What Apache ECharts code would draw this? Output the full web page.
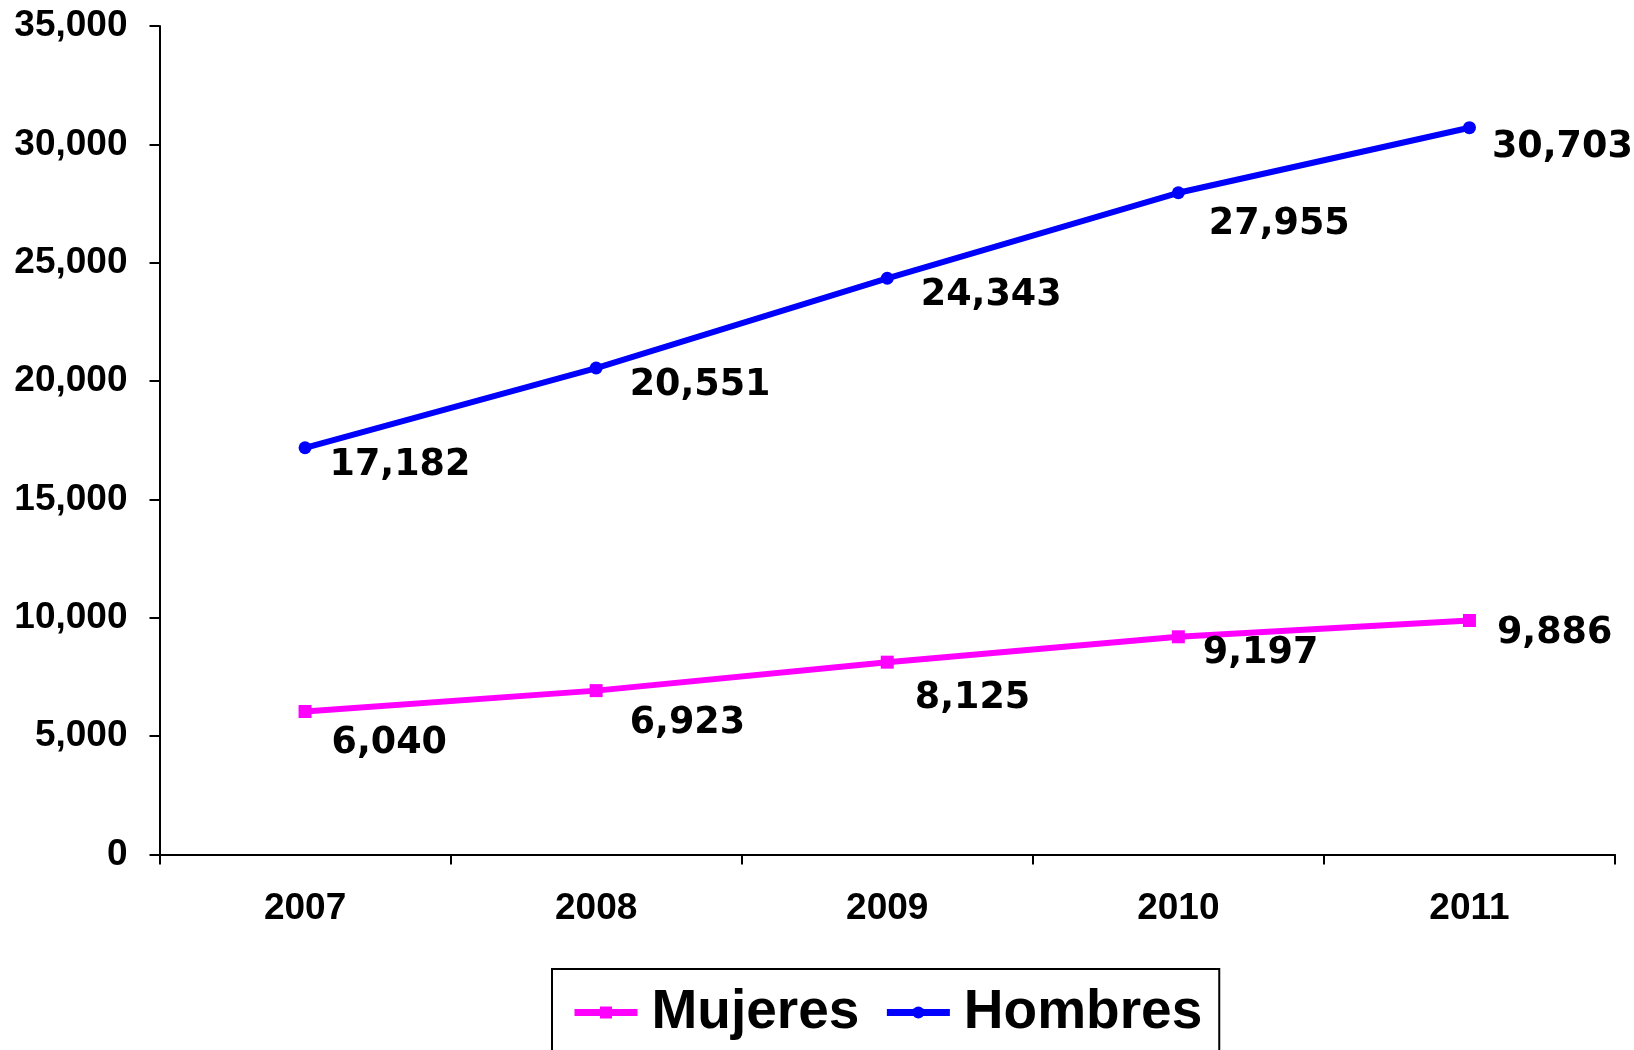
<!DOCTYPE html>
<html>
<head>
<meta charset="utf-8">
<script src="https://cdn.jsdelivr.net/npm/echarts@6/dist/echarts.min.js"></script>
<style>
html,body{margin:0;padding:0;background:#fff;}
#chart{width:1634px;height:1050px;}
</style>
</head>
<body>
<div id="chart"></div>
<script>
const years = ['2007', '2008', '2009', '2010', '2011'];
const mujeres = [6040, 6923, 8125, 9197, 9886];
const hombres = [17182, 20551, 24343, 27955, 30703];
const mujeresLabelOffsets = [[20, 32], [27, 33], [21, 36], [18, 17], [21, 13]];
const hombresLabelOffsets = [[18, 18], [27, 17], [27, 17], [24, 32], [16, 20]];

const axisFont = { fontFamily: 'Liberation Sans, Arial, sans-serif', fontWeight: 'bold', fontSize: 37, color: '#000' };
const labelFont = { fontFamily: 'DejaVu Sans, Verdana, sans-serif', fontWeight: 'bold', fontSize: 36.5, color: '#000' };

function buildData(values, offsets) {
  return values.map((v, i) => ({
    value: v,
    label: { offset: offsets[i] }
  }));
}

const chart = echarts.init(document.getElementById('chart'), null, { renderer: 'canvas' });
chart.setOption({
  animation: false,
  backgroundColor: '#fff',
  grid: { left: 159.5, right: 19, top: 26, bottom: 195.5, containLabel: false },
  xAxis: {
    type: 'category',
    data: years,
    boundaryGap: true,
    axisLine: { lineStyle: { color: '#000', width: 2 } },
    axisTick: { show: true, length: 10, lineStyle: { color: '#000', width: 2 } },
    axisLabel: Object.assign({ margin: 36 }, axisFont),
    splitLine: { show: false }
  },
  yAxis: {
    type: 'value',
    min: 0,
    max: 35000,
    interval: 5000,
    axisLine: { show: true, lineStyle: { color: '#000', width: 2 } },
    axisTick: { show: true, length: 10, lineStyle: { color: '#000', width: 2 } },
    axisLabel: Object.assign({ margin: 32, formatter: v => v.toLocaleString('en-US') }, axisFont),
    splitLine: { show: false }
  },
  legend: {
    left: 552,
    top: 969,
    orient: 'horizontal',
    borderColor: '#000',
    borderWidth: 2,
    padding: [16, 17, 30, 19],
    itemWidth: 63,
    itemHeight: 15,
    itemGap: 24,
    lineStyle: { width: 7 },
    textStyle: { fontFamily: 'Liberation Sans, Arial, sans-serif', fontWeight: 'bold', fontSize: 55, color: '#000', padding: [0, 0, 0, 9] },
    data: ['Mujeres', 'Hombres']
  },
  series: [
    {
      name: 'Mujeres',
      type: 'line',
      data: buildData(mujeres, mujeresLabelOffsets),
      symbol: 'rect',
      symbolSize: 13,
      lineStyle: { color: '#FF00FF', width: 6 },
      itemStyle: { color: '#FF00FF' },
      label: Object.assign({ show: true, position: 'right', distance: 0, formatter: p => p.value.toLocaleString('en-US') }, labelFont)
    },
    {
      name: 'Hombres',
      type: 'line',
      data: buildData(hombres, hombresLabelOffsets),
      symbol: 'circle',
      symbolSize: 13,
      lineStyle: { color: '#0000FF', width: 6 },
      itemStyle: { color: '#0000FF' },
      label: Object.assign({ show: true, position: 'right', distance: 0, formatter: p => p.value.toLocaleString('en-US') }, labelFont)
    }
  ]
});
</script>
</body>
</html>
